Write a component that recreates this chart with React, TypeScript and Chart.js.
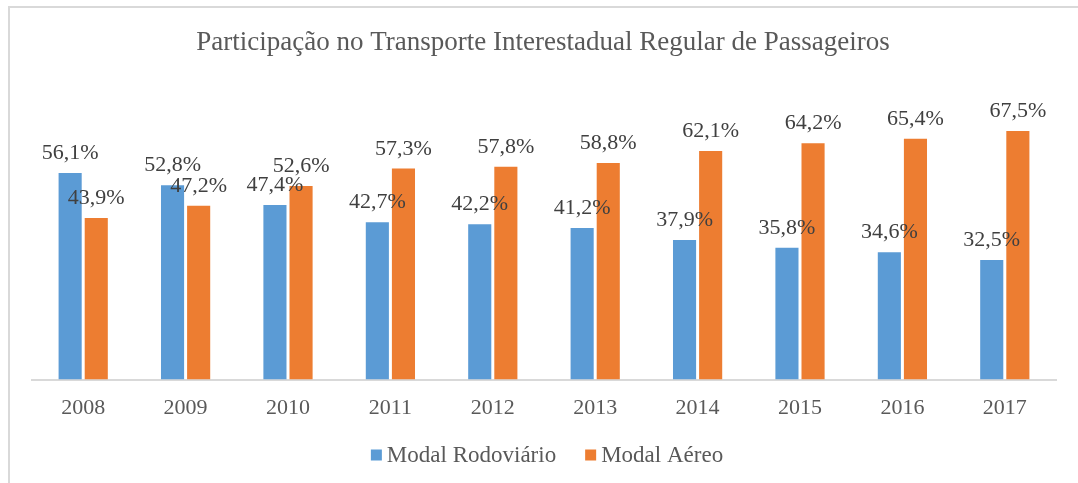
import React, { useEffect, useRef } from "react";
import { Chart, registerables } from "chart.js";

Chart.register(...registerables);

const TITLE = "Participação no Transporte Interestadual Regular de Passageiros";
const YEARS = ["2008", "2009", "2010", "2011", "2012", "2013", "2014", "2015", "2016", "2017"];
const RODOVIARIO = [56.1, 52.8, 47.4, 42.7, 42.2, 41.2, 37.9, 35.8, 34.6, 32.5];
const AEREO = [43.9, 47.2, 52.6, 57.3, 57.8, 58.8, 62.1, 64.2, 65.4, 67.5];
const SERIES_NAMES = ["Modal Rodoviário", "Modal Aéreo"];
const COLORS = ["#5B9BD5", "#ED7D31"];

const FONT = "'Liberation Serif', 'Times New Roman', serif";

const fmt = (v: number) => v.toFixed(1).replace(".", ",") + "%";

const overlayPlugin = {
  id: "overlay",
  afterDatasetsDraw(chart: any) {
    const ctx = chart.ctx;
    const area = chart.chartArea;
    ctx.save();
    // data labels
    ctx.font = `22px ${FONT}`;
    ctx.fillStyle = "#404040";
    ctx.textAlign = "center";
    ctx.textBaseline = "alphabetic";
    chart.data.datasets.forEach((ds: any, di: number) => {
      const meta = chart.getDatasetMeta(di);
      meta.data.forEach((bar: any, i: number) => {
        ctx.fillText(fmt(ds.data[i]), bar.x, bar.y - 14);
      });
    });
    // title
    const cx = (area.left + area.right) / 2;
    ctx.font = `27px ${FONT}`;
    ctx.fillStyle = "#595959";
    ctx.fillText(TITLE, cx - 1, 50);
    // legend
    ctx.font = `23px ${FONT}`;
    const box = 11;
    const gap = 5;
    const itemGap = 29;
    const widths = chart.data.datasets.map((ds: any) => ctx.measureText(ds.label).width);
    let total = 0;
    widths.forEach((w: number, i: number) => {
      total += box + gap + w + (i < widths.length - 1 ? itemGap : 0);
    });
    let x = cx + 3 - total / 2;
    const ly = 455;
    ctx.textAlign = "left";
    ctx.textBaseline = "middle";
    chart.data.datasets.forEach((ds: any, i: number) => {
      ctx.fillStyle = ds.backgroundColor;
      ctx.fillRect(x, ly - box / 2, box, box);
      x += box + gap;
      ctx.fillStyle = "#595959";
      ctx.fillText(ds.label, x, ly + 1);
      x += widths[i] + itemGap;
    });
    ctx.restore();
  },
};

export default function App() {
  const ref = useRef<HTMLCanvasElement | null>(null);
  useEffect(() => {
    if (!ref.current) return;
    const chart = new Chart(ref.current, {
      type: "bar",
      data: {
        labels: YEARS,
        datasets: [
          { label: SERIES_NAMES[0], data: RODOVIARIO, backgroundColor: COLORS[0] },
          { label: SERIES_NAMES[1], data: AEREO, backgroundColor: COLORS[1] },
        ],
      },
      options: {
        animation: false,
        responsive: false,
        maintainAspectRatio: false,
        datasets: {
          bar: { categoryPercentage: 0.51, barPercentage: 0.885 },
        },
        layout: { padding: { top: 85, left: 32, right: 22, bottom: 47 } },
        plugins: {
          legend: { display: false },
          title: { display: false },
          tooltip: { enabled: false },
        },
        scales: {
          x: {
            grid: { display: false, drawTicks: false },
            border: { display: true, color: "#D9D9D9", width: 2 },
            ticks: {
              padding: 15,
              color: "#595959",
              font: { family: FONT, size: 22 },
            },
          },
          y: {
            display: false,
            min: 0,
            max: 80,
          },
        },
      },
      plugins: [overlayPlugin],
    });
    return () => chart.destroy();
  }, []);
  return (
    <div style={{ position: "fixed", left: 0, top: 0, width: 1078, height: 483, background: "#fff" }}>
      <div
        style={{
          position: "absolute",
          left: 8,
          top: 6,
          right: -10,
          bottom: -10,
          borderLeft: "2px solid #D9D9D9",
          borderTop: "2px solid #D9D9D9",
        }}
      />
      <canvas ref={ref} width={1078} height={483} style={{ position: "absolute", left: 0, top: 0 }} />
    </div>
  );
}
